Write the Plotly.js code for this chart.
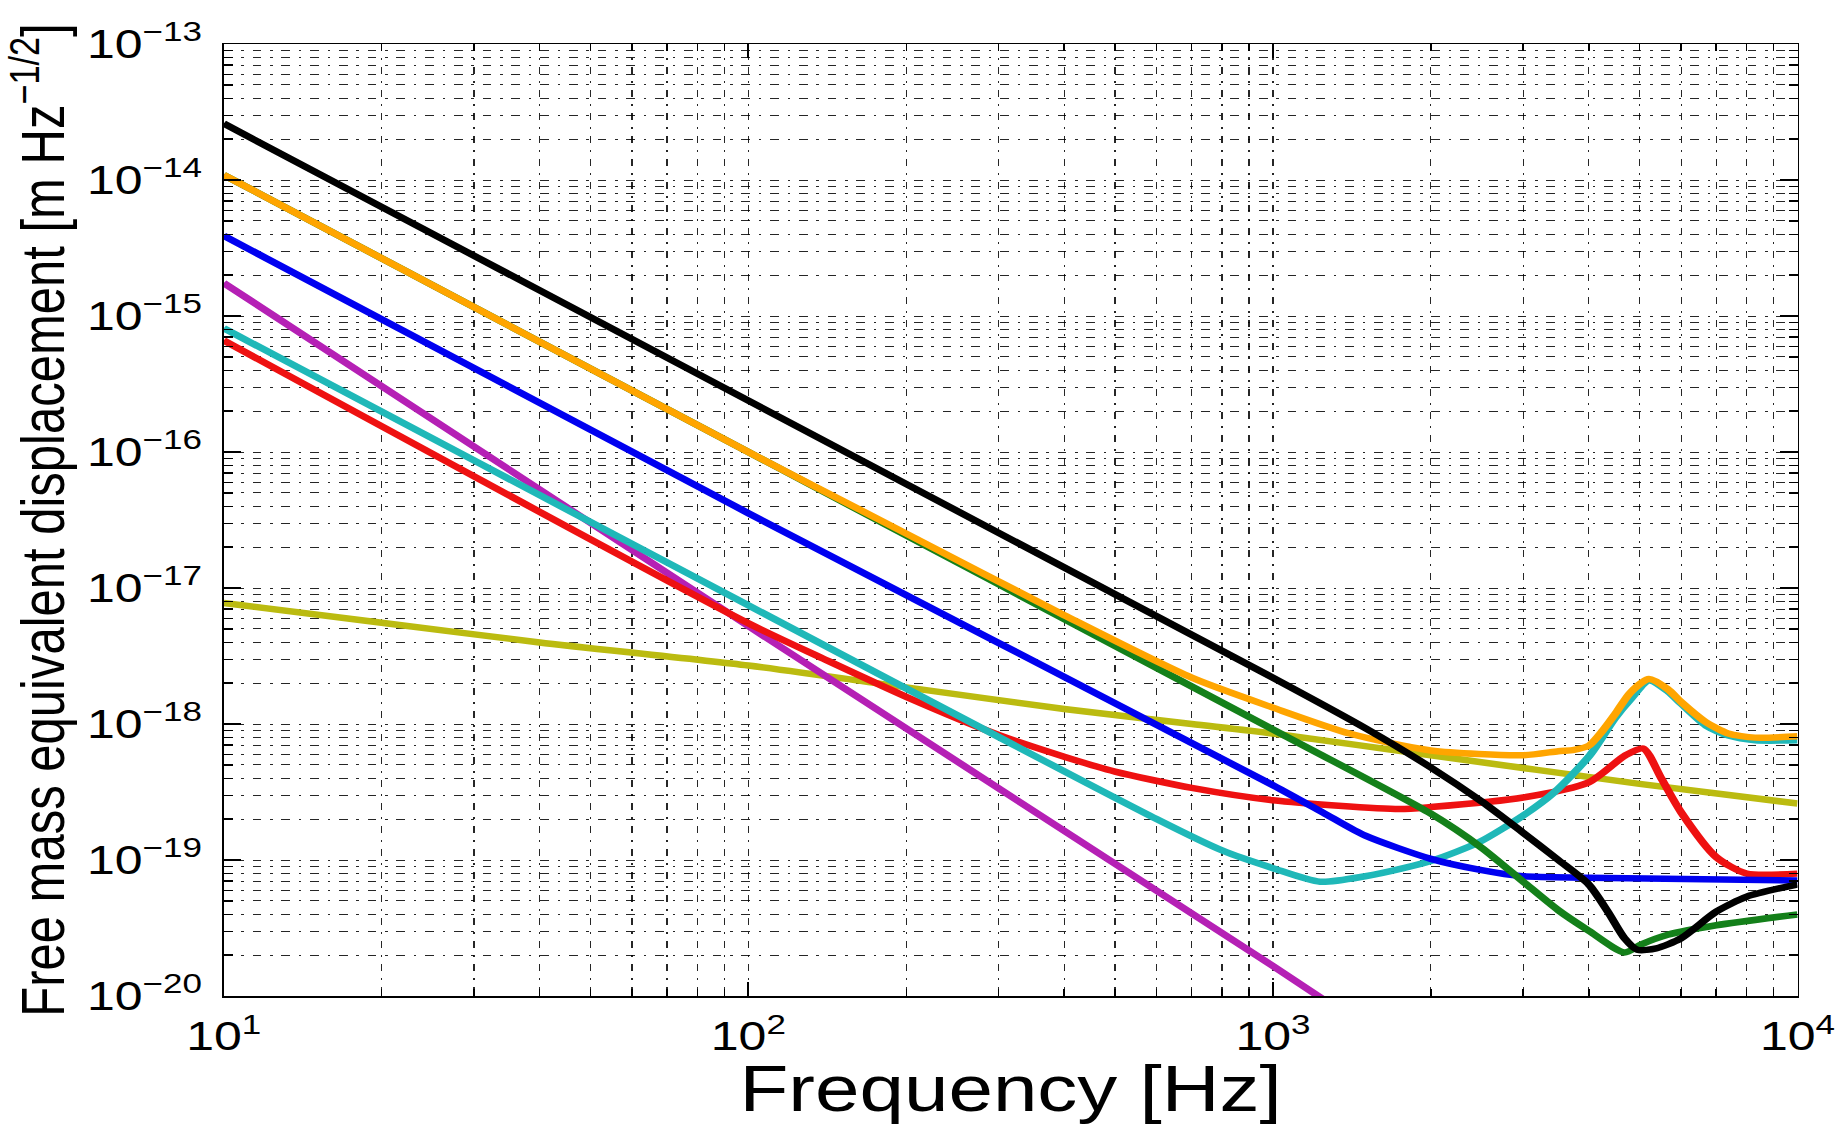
<!DOCTYPE html>
<html>
<head>
<meta charset="utf-8">
<script src="https://cdn.plot.ly/plotly-3.0.1.min.js"></script>
<style>
  html, body { margin: 0; padding: 0; background: #ffffff; overflow: hidden; }
  #chart { width: 1476px; height: 1125px; transform: scaleX(1.25); transform-origin: 0 0; }
</style>
</head>
<body>
<div id="chart"></div>
<script>
// ---------- axis ticks ----------
const xMajor = [10, 100, 1000, 10000];
const xMajorText = ['10<sup>1</sup>', '10<sup>2</sup>', '10<sup>3</sup>', '10<sup>4</sup>'];
const yMajor = [1e-20, 1e-19, 1e-18, 1e-17, 1e-16, 1e-15, 1e-14, 1e-13];
const yMajorText = ['10<sup>−20</sup>', '10<sup>−19</sup>', '10<sup>−18</sup>', '10<sup>−17</sup>',
                    '10<sup>−16</sup>', '10<sup>−15</sup>', '10<sup>−14</sup>', '10<sup>−13</sup>'];
const minorDigits = [2, 3, 4, 5, 6, 7, 8, 9];

// ---------- series (frequency [Hz], displacement [m Hz^-1/2]) ----------
const blackFreq = [10, 1000, 1500, 2000, 2500, 3000, 3500, 4000, 4350, 4680, 4950, 5380, 6000, 7000, 8000, 10000];
const blackVal  = [2.60e-14, 2.19e-18, 9.33e-19, 4.79e-19, 2.69e-19, 1.585e-19, 1.00e-19, 6.61e-20, 4.17e-20, 2.66e-20, 2.19e-20, 2.24e-20, 2.66e-20, 4.17e-20, 5.37e-20, 6.61e-20];

const orangeFreq = [10, 100, 200, 400, 700, 1000, 1400, 2000, 3000, 3500, 3750, 4000, 4250, 4486, 4800, 5210, 5660, 6000, 6680, 7380, 8300, 10000];
const orangeVal  = [1.09e-14, 1.00e-16, 2.51e-17, 6.31e-18, 2.19e-18, 1.32e-18, 8.51e-19, 6.38e-19, 5.89e-19, 6.31e-19, 6.46e-19, 6.92e-19, 8.91e-19, 1.175e-18, 1.70e-18, 2.14e-18, 1.80e-18, 1.45e-18, 1.035e-18, 8.51e-19, 7.94e-19, 8.13e-19];

const greenFreq = [10, 100, 1000, 2000, 2500, 3000, 3500, 4000, 4680, 5040, 5660, 7000, 10000];
const greenVal  = [1.09e-14, 1.00e-16, 9.12e-19, 2.19e-19, 1.23e-19, 6.92e-20, 4.27e-20, 3.02e-20, 2.09e-20, 2.40e-20, 2.82e-20, 3.31e-20, 3.98e-20];

const blueFreq = [10, 100, 1000, 1270, 1500, 2000, 2470, 3000, 4000, 10000];
const blueVal  = [3.89e-15, 3.55e-17, 3.55e-19, 2.14e-19, 1.51e-19, 1.02e-19, 8.50e-20, 7.59e-20, 7.41e-20, 7.08e-20];

const magentaFreq = [10, 100, 1000, 1300];
const magentaVal  = [1.75e-15, 5.25e-18, 1.66e-20, 8.5e-21];

const cyanFreq = [10, 600, 800, 1000, 1230, 1500, 1773, 2027, 2470, 3010, 3443, 4020, 4486, 4800, 5210, 5660, 6000, 6680, 7380, 8300, 10000];
const cyanVal  = [8.13e-16, 2.00e-19, 1.175e-19, 8.71e-20, 6.92e-20, 7.59e-20, 8.71e-20, 1.00e-19, 1.35e-19, 2.14e-19, 3.16e-19, 5.89e-19, 1.10e-18, 1.51e-18, 2.09e-18, 1.74e-18, 1.41e-18, 9.77e-19, 8.22e-19, 7.59e-19, 7.59e-19];

const redFreq = [10, 100, 139, 200, 300, 400, 500, 700, 1000, 1742, 2000, 3000, 4000, 4700, 5080, 5500, 6000, 7000, 8000, 10000];
const redVal  = [6.61e-16, 5.50e-18, 3.02e-18, 1.585e-18, 8.32e-19, 5.75e-19, 4.47e-19, 3.39e-19, 2.75e-19, 2.37e-19, 2.45e-19, 2.88e-19, 3.72e-19, 5.89e-19, 6.61e-19, 3.98e-19, 2.24e-19, 1.05e-19, 7.94e-20, 7.94e-20];

const oliveFreq = [10, 20, 40, 100, 200, 400, 700, 1000, 2000, 5000, 10000];
const oliveVal  = [7.76e-18, 5.56e-18, 3.98e-18, 2.69e-18, 1.86e-18, 1.29e-18, 1.00e-18, 8.51e-19, 5.89e-19, 3.63e-19, 2.60e-19];

// ---------- build ----------
function minorOf(majors) {
  const out = [];
  for (let i = 0; i < majors.length - 1; i++) {
    for (const d of minorDigits) out.push(majors[i] * d);
  }
  return out;
}

function series(x, y, color) {
  return { x: x, y: y, type: 'scatter', mode: 'lines', hoverinfo: 'skip',
           line: { color: color, width: 6.5, shape: 'spline', smoothing: 0.7 } };
}

const traces = [
  series(oliveFreq, oliveVal, '#BBBB10'),
  series(magentaFreq, magentaVal, '#B520B5'),
  series(redFreq, redVal, '#EE1111'),
  series(cyanFreq, cyanVal, '#1FB8B8'),
  series(blueFreq, blueVal, '#0000F0'),
  series(greenFreq, greenVal, '#14801A'),
  series(orangeFreq, orangeVal, '#FFA500'),
  series(blackFreq, blackVal, '#000000')
];

const gridStyle = { gridcolor: 'rgba(0,0,0,0.85)', gridwidth: 1, griddash: '7px,7px,2px,7px' };

const layout = {
  width: 1476, height: 1125,
  margin: { l: 179, r: 38, t: 44, b: 129 },
  paper_bgcolor: '#ffffff', plot_bgcolor: '#ffffff',
  showlegend: false,
  font: { family: '"Liberation Sans", Arial, Helvetica, sans-serif', color: '#000000' },
  xaxis: {
    type: 'log', range: [1, 4], autorange: false,
    tickmode: 'array', tickvals: xMajor, ticktext: xMajorText,
    tickfont: { size: 40, color: '#000' }, ticklabelstandoff: 5,
    ticks: 'inside', ticklen: 14, tickwidth: 1.5, tickcolor: '#000',
    showline: true, linecolor: '#000', linewidth: 1.5, mirror: 'ticks',
    showgrid: true, gridcolor: gridStyle.gridcolor, gridwidth: gridStyle.gridwidth, griddash: gridStyle.griddash,
    zeroline: false,
    minor: { tickmode: 'array', tickvals: minorOf(xMajor), ticks: 'inside', ticklen: 7, tickwidth: 1.2, tickcolor: '#000',
             showgrid: true, gridcolor: gridStyle.gridcolor, gridwidth: gridStyle.gridwidth, griddash: gridStyle.griddash },
    title: { text: 'Frequency [Hz]', font: { size: 64, color: '#000' }, standoff: 16 }
  },
  yaxis: {
    type: 'log', range: [-20, -13], autorange: false,
    tickmode: 'array', tickvals: yMajor, ticktext: yMajorText,
    tickfont: { size: 40, color: '#000' }, ticklabelstandoff: 8,
    ticks: 'inside', ticklen: 14, tickwidth: 1.5, tickcolor: '#000',
    showline: true, linecolor: '#000', linewidth: 1.5, mirror: 'ticks',
    showgrid: true, gridcolor: gridStyle.gridcolor, gridwidth: gridStyle.gridwidth, griddash: gridStyle.griddash,
    zeroline: false,
    minor: { tickmode: 'array', tickvals: minorOf(yMajor), ticks: 'inside', ticklen: 7, tickwidth: 1.2, tickcolor: '#000',
             showgrid: true, gridcolor: gridStyle.gridcolor, gridwidth: gridStyle.gridwidth, griddash: gridStyle.griddash },
    title: { text: 'Free mass equivalent displacement [m Hz<sup>−1/2</sup>]', font: { size: 49, color: '#000' }, standoff: 3 }
  }
};

Plotly.newPlot('chart', traces, layout, { staticPlot: true, displayModeBar: false });
</script>
</body>
</html>
